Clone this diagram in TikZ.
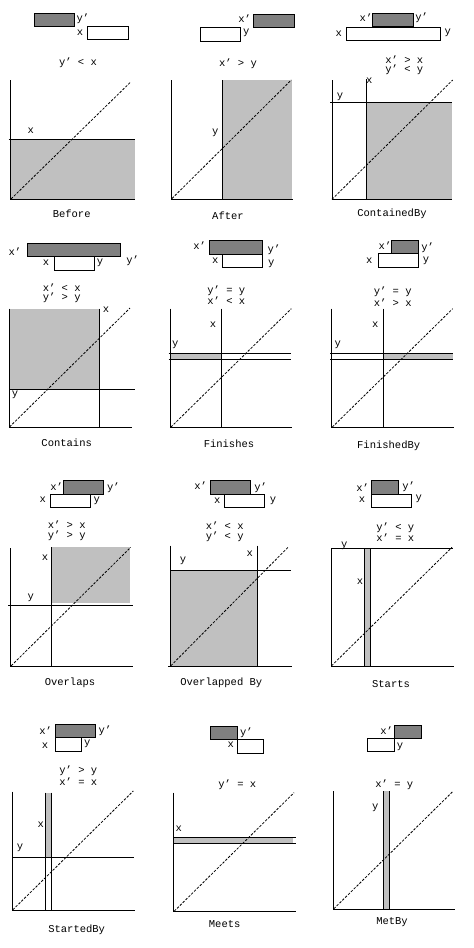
\documentclass[tikz,border=0pt]{standalone}
\usepackage{fontspec}
\newfontfamily\monof{Liberation Mono}
\definecolor{barGray}{RGB}{128,128,128}
\definecolor{regGray}{RGB}{192,192,192}
\tikzset{
 lbl/.style={inner sep=0pt, font=\monof\fontsize{10.5}{12}\selectfont},
 darkbar/.style={draw=black, fill=barGray, line width=0.8pt},
 whitebar/.style={draw=black, fill=white, line width=0.8pt},
 shade/.style={fill=regGray, draw=none},
 axis/.style={line width=0.9pt},
 guide/.style={line width=0.9pt},
 diag/.style={dash pattern=on 2.5pt off 1.5pt, line width=0.8pt},
}
\begin{document}
\begin{tikzpicture}[x=1pt,y=-1pt]
\useasboundingbox[fill=white] (0,0) rectangle (474,948);
% ---------- Panel 1: Before
\draw[darkbar] (34.3,13.3) rectangle (74.3,26.3);
\draw[whitebar] (87.3,26.3) rectangle (128.3,39.3);
\node[lbl] (a1) at (83,19) {y’};
\node[lbl] (a2) at (80,33) {x};
\node[lbl] (a3) at (78,63) {y’ < x};
\fill[shade] (10.7,139.3) rectangle (134.5,199.3);
\draw[axis] (10.7,80) -- (10.7,199.3) -- (134.5,199.3);
\draw[guide] (8.7,139.3) -- (134.5,139.3);
\draw[diag] (11,199) -- (131,81.7);
\node[lbl] (a4) at (30.7,131) {x};
\node[lbl] (a5) at (71.7,213.3) {Before};
% ---------- Panel 2: After
\draw[darkbar] (253.7,14) rectangle (294.7,27.3);
\draw[whitebar] (200,27.3) rectangle (240.3,41.3);
\node[lbl] (b1) at (244.7,18.3) {x’};
\node[lbl] (b2) at (246.3,33.3) {y};
\node[lbl] (b3) at (238,63.3) {x’ > y};
\fill[shade] (222.3,80) rectangle (292.3,199.3);
\draw[axis] (171.3,80) -- (171.3,199.3) -- (293,199.3);
\draw[guide] (222.3,80) -- (222.3,199.3);
\draw[diag] (172,198.5) -- (291.3,80);
\node[lbl] (b4) at (215.3,132.7) {y};
\node[lbl] (b5) at (228,216) {After};
% ---------- Panel 3: ContainedBy
\draw[darkbar] (372,13.3) rectangle (413.3,26.7);
\draw[whitebar] (346.3,27.3) rectangle (440,40.3);
\node[lbl] (c1) at (366,17.3) {x’};
\node[lbl] (c2) at (421.7,17.3) {y’};
\node[lbl] (c3) at (338.7,33.3) {x};
\node[lbl] (c4) at (447.7,33.3) {y};
\node[lbl] (c5) at (404.3,59.3) {x’ > x};
\node[lbl] (c6) at (404.3,70) {y’ < y};
\fill[shade] (366,102.3) rectangle (452,199.3);
\draw[axis] (332,80) -- (332,199.3) -- (452,199.3);
\draw[guide] (330,102.3) -- (452,102.3);
\draw[guide] (366,79) -- (366,199.3);
\draw[diag] (332,199.3) -- (452.7,80);
\node[lbl] (c7) at (369.3,81) {x};
\node[lbl] (c8) at (340,97.3) {y};
\node[lbl] (c9) at (392,213.3) {ContainedBy};
% ---------- Panel 4: Contains
\draw[darkbar] (27.3,243) rectangle (120.7,256.3);
\draw[whitebar] (54.3,256.3) rectangle (94.3,270.3);
\node[lbl] (d1) at (15,252) {x’};
\node[lbl] (d2) at (132.7,260.3) {y’};
\node[lbl] (d3) at (46,263) {x};
\node[lbl] (d4) at (100,263) {y};
\node[lbl] (d5) at (61.7,287.7) {x’ < x};
\node[lbl] (d6) at (61.7,297.7) {y’ > y};
\fill[shade] (9,308.7) rectangle (99.3,389.3);
\draw[axis] (9,308.7) -- (9,427.7) -- (131.7,427.7);
\draw[guide] (9,389.3) -- (135,389.3);
\draw[guide] (99.3,308.7) -- (99.3,427.7);
\draw[diag] (9.5,427) -- (130,308);
\node[lbl] (d7) at (106,309.7) {x};
\node[lbl] (d8) at (15,395.3) {y};
\node[lbl] (d9) at (66.7,442.7) {Contains};
% ---------- Panel 5: Finishes
\draw[darkbar] (209,240.3) rectangle (262.3,254.3);
\draw[whitebar] (222.3,254.3) rectangle (262.3,267.7);
\node[lbl] (e1) at (199.7,246) {x’};
\node[lbl] (e2) at (274,249.7) {y’};
\node[lbl] (e3) at (215.3,260.3) {x};
\node[lbl] (e4) at (271.3,263.7) {y};
\node[lbl] (e5) at (226.3,290.3) {y’ = y};
\node[lbl] (e6) at (226.3,301) {x’ < x};
\fill[shade] (170.3,353.7) rectangle (221.3,359.3);
\draw[axis] (170.3,308.7) -- (170.3,427.7) -- (292.3,427.7);
\draw[guide] (168.7,353.7) -- (291.3,353.7);
\draw[guide] (168.7,359.3) -- (291.3,359.3);
\draw[guide] (221.3,308.7) -- (221.3,427.7);
\draw[diag] (170.8,427.2) -- (291.3,308.7);
\node[lbl] (e7) at (213,324.3) {x};
\node[lbl] (e8) at (175.3,344.7) {y};
\node[lbl] (e9) at (229,443.7) {Finishes};
% ---------- Panel 6: FinishedBy
\draw[darkbar] (391.7,240.3) rectangle (418.3,253.7);
\draw[whitebar] (378.3,253.7) rectangle (418.3,267);
\node[lbl] (f1) at (385,245.3) {x’};
\node[lbl] (f2) at (427.7,247.7) {y’};
\node[lbl] (f3) at (369.3,260.3) {x};
\node[lbl] (f4) at (426,261) {y};
\node[lbl] (f5) at (392.7,292) {y’ = y};
\node[lbl] (f6) at (392.7,302.7) {x’ > x};
\fill[shade] (383.7,353.7) rectangle (452.7,359.3);
\draw[axis] (331.7,308.7) -- (331.7,427.7) -- (453.7,427.7);
\draw[guide] (330,353.7) -- (452.7,353.7);
\draw[guide] (330,359.3) -- (452.7,359.3);
\draw[guide] (383.7,308.7) -- (383.7,427.7);
\draw[diag] (332.2,427.2) -- (452.7,308.7);
\node[lbl] (f7) at (375.3,324.3) {x};
\node[lbl] (f8) at (337.7,344.7) {y};
\node[lbl] (f9) at (388.7,445.3) {FinishedBy};
% ---------- Panel 7: Overlaps
\draw[darkbar] (63.3,480.7) rectangle (103.3,494);
\draw[whitebar] (50,494) rectangle (90,507.3);
\node[lbl] (g1) at (56.7,486.7) {x’};
\node[lbl] (g2) at (113.3,487.3) {y’};
\node[lbl] (g3) at (42.7,500) {x};
\node[lbl] (g4) at (96.7,500.7) {y};
\node[lbl] (g5) at (66.7,524.7) {x’ > x};
\node[lbl] (g6) at (66.7,535.7) {y’ > y};
\fill[shade] (51.7,547.3) rectangle (130,603.3);
\draw[axis] (10.7,548) -- (10.7,666.3) -- (132.7,666.3);
\draw[guide] (8.3,605.7) -- (133.3,605.7);
\draw[guide] (51.7,547.3) -- (51.7,666.3);
\draw[diag] (11.2,665.8) -- (130.7,547.3);
\node[lbl] (g7) at (45,557.3) {x};
\node[lbl] (g8) at (30.7,598) {y};
\node[lbl] (g9) at (70,682.3) {Overlaps};
% ---------- Panel 8: Overlapped By
\draw[darkbar] (210.3,480) rectangle (250.3,494);
\draw[whitebar] (224.7,494) rectangle (264.7,507.3);
\node[lbl] (h1) at (200.7,485.7) {x’};
\node[lbl] (h2) at (260.7,487.3) {y’};
\node[lbl] (h3) at (217.3,500.7) {x};
\node[lbl] (h4) at (273,500.7) {y};
\node[lbl] (h5) at (224.7,525.7) {x’ < x};
\node[lbl] (h6) at (224.7,536.7) {y’ < y};
\fill[shade] (170.3,570.7) rectangle (257.3,666.3);
\draw[axis] (170.3,545.7) -- (170.3,666.3);
\draw[axis] (168,666.3) -- (292.3,666.3);
\draw[guide] (170.3,570.7) -- (290.7,570.7);
\draw[guide] (257.3,545.7) -- (257.3,666.3);
\draw[diag] (170.8,665.8) -- (288,547.3);
\node[lbl] (h7) at (249.7,553.3) {x};
\node[lbl] (h8) at (183,561.3) {y};
\node[lbl] (h9) at (221.3,682.3) {Overlapped By};
% ---------- Panel 9: Starts
\draw[darkbar] (371.7,480) rectangle (398.3,494);
\draw[whitebar] (371.7,494) rectangle (411.7,507.3);
\node[lbl] (i1) at (362.7,487.3) {x’};
\node[lbl] (i2) at (408.7,486.7) {y’};
\node[lbl] (i3) at (362,500) {x};
\node[lbl] (i4) at (418.7,499) {y};
\node[lbl] (i5) at (395.3,527.3) {y’ < y};
\node[lbl] (i6) at (395.3,537.3) {x’ = x};
\fill[shade] (364.3,548) rectangle (370,666.3);
\draw[axis] (331,548) -- (331,666.3) -- (453.7,666.3);
\draw[guide] (331,548) -- (452.7,548);
\draw[guide] (364.3,548) -- (364.3,666.3);
\draw[guide] (370,548) -- (370,666.3);
\draw[diag] (331.5,665.8) -- (452,547.3);
\node[lbl] (i7) at (344.3,545.7) {y};
\node[lbl] (i8) at (360,581.3) {x};
\node[lbl] (i9) at (391,684) {Starts};
% ---------- Panel 10: StartedBy
\draw[darkbar] (55.7,724.3) rectangle (95.7,737.7);
\draw[whitebar] (55.7,737.7) rectangle (81.7,751.3);
\node[lbl] (j1) at (45.7,730.3) {x’};
\node[lbl] (j2) at (105,730.3) {y’};
\node[lbl] (j3) at (45,746) {x};
\node[lbl] (j4) at (87.3,744.3) {y};
\node[lbl] (j5) at (78.3,771) {y’ > y};
\node[lbl] (j6) at (78.3,781.7) {x’ = x};
\fill[shade] (45.7,792.7) rectangle (51,857.7);
\draw[axis] (12.3,791.7) -- (12.3,910.3) -- (135,910.3);
\draw[guide] (12.3,857.7) -- (134.3,857.7);
\draw[guide] (45.7,792.7) -- (45.7,910.3);
\draw[guide] (51,792.7) -- (51,910.3);
\draw[diag] (12.8,909.8) -- (133.3,791);
\node[lbl] (j7) at (40.7,825) {x};
\node[lbl] (j8) at (20,848.3) {y};
\node[lbl] (j9) at (76.7,929.3) {StartedBy};
% ---------- Panel 11: Meets
\draw[darkbar] (210.3,726) rectangle (237.3,739.3);
\draw[whitebar] (237.3,739.3) rectangle (263.7,753.3);
\node[lbl] (k1) at (246.3,732.7) {y’};
\node[lbl] (k2) at (230.7,745) {x};
\node[lbl] (k3) at (237.3,785) {y’ = x};
\fill[shade] (173.7,837.7) rectangle (293,843.3);
\draw[axis] (173.7,792.7) -- (173.7,911.7) -- (295.7,911.7);
\draw[guide] (173.7,837.7) -- (295.7,837.7);
\draw[guide] (173.7,843.3) -- (295.7,843.3);
\draw[diag] (174.2,911.2) -- (294,792.7);
\node[lbl] (k4) at (178.7,828.3) {x};
\node[lbl] (k5) at (224.7,924.3) {Meets};
% ---------- Panel 12: MetBy
\draw[darkbar] (394.7,725.3) rectangle (421.7,738.3);
\draw[whitebar] (367,738.3) rectangle (394.7,751.7);
\node[lbl] (l1) at (386.7,730.3) {x’};
\node[lbl] (l2) at (400,747) {y};
\node[lbl] (l3) at (394.3,784.3) {x’ = y};
\fill[shade] (383.7,791) rectangle (389.3,909.3);
\draw[axis] (333.3,791) -- (333.3,909.3) -- (455.3,909.3);
\draw[guide] (383.7,791) -- (383.7,909.3);
\draw[guide] (389.3,791) -- (389.3,909.3);
\draw[diag] (333.8,908.8) -- (453.3,791);
\node[lbl] (l4) at (375.3,808.3) {y};
\node[lbl] (l5) at (392,922) {MetBy};
\end{tikzpicture}
\end{document}
